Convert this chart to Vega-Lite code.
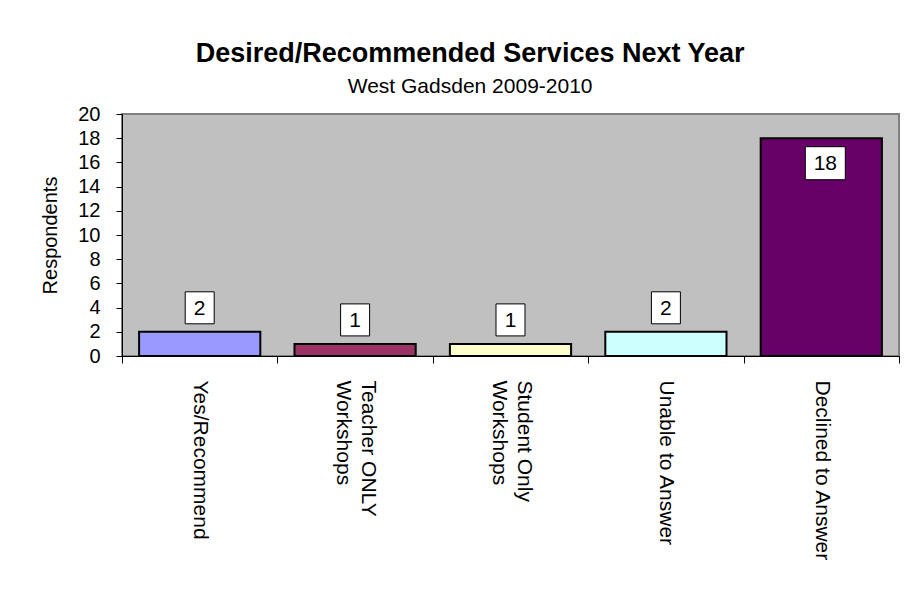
{
  "$schema": "https://vega.github.io/schema/vega-lite/v6.json",
  "width": 777,
  "height": 242,
  "padding": {"left": 40, "top": 40, "right": 10, "bottom": 5},
  "background": "white",
  "title": {
    "text": "Desired/Recommended Services Next Year",
    "subtitle": "West Gadsden 2009-2010",
    "font": "Liberation Sans",
    "fontSize": 27,
    "fontWeight": "bold",
    "color": "black",
    "subtitleFont": "Liberation Sans",
    "subtitleFontSize": 21,
    "subtitleColor": "black",
    "subtitlePadding": 8,
    "anchor": "middle",
    "frame": "bounds",
    "offset": 6
  },
  "config": {
    "view": {"stroke": "#808080", "strokeWidth": 2, "fill": "#C0C0C0"},
    "font": "Liberation Sans"
  },
  "data": {
    "values": [
      {"category": "Yes/Recommend", "respondents": 2},
      {"category": "Teacher ONLY Workshops", "respondents": 1},
      {"category": "Student Only Workshops", "respondents": 1},
      {"category": "Unable to Answer", "respondents": 2},
      {"category": "Declined to Answer", "respondents": 18}
    ]
  },
  "encoding": {
    "x": {
      "field": "category",
      "type": "nominal",
      "sort": null,
      "scale": {"paddingInner": 0, "paddingOuter": 0},
      "axis": {
        "title": null,
        "labelAngle": 90,
        "labelAlign": "left",
        "labelBaseline": "middle",
        "labelFont": "Liberation Sans",
        "labelFontSize": 21,
        "labelColor": "black",
        "labelPadding": 17,
        "labelLimit": 0,
        "labelLineHeight": 25,
        "labelOffset": {"condition": {"test": "datum.value == 'Teacher ONLY Workshops' || datum.value == 'Student Only Workshops'", "value": 12.5}, "value": 0},
        "labelExpr": "datum.label == 'Teacher ONLY Workshops' ? ['Teacher ONLY', 'Workshops'] : datum.label == 'Student Only Workshops' ? ['Student Only', 'Workshops'] : datum.label",
        "tickBand": "extent",
        "tickSize": 7,
        "tickColor": "black",
        "domainColor": "black",
        "grid": false
      }
    },
    "y": {
      "field": "respondents",
      "type": "quantitative",
      "scale": {"domain": [0, 20], "nice": false},
      "axis": {
        "title": "Respondents",
        "titleFont": "Liberation Sans",
        "titleFontSize": 20,
        "titleFontWeight": "normal",
        "titleColor": "black",
        "titlePadding": 17,
        "values": [0, 2, 4, 6, 8, 10, 12, 14, 16, 18, 20],
        "labelFont": "Liberation Sans",
        "labelFontSize": 20,
        "labelColor": "black",
        "labelPadding": 16,
        "labelOverlap": false,
        "tickSize": 6,
        "tickColor": "black",
        "domainColor": "black",
        "grid": false
      }
    }
  },
  "layer": [
    {
      "mark": {"type": "bar", "width": {"band": 0.78}, "stroke": "black", "strokeWidth": 2},
      "encoding": {
        "color": {
          "field": "category",
          "type": "nominal",
          "scale": {
            "domain": ["Yes/Recommend", "Teacher ONLY Workshops", "Student Only Workshops", "Unable to Answer", "Declined to Answer"],
            "range": ["#9999FF", "#993366", "#FFFFCC", "#CCFFFF", "#660066"]
          },
          "legend": null
        }
      }
    },
    {
      "transform": [{"filter": "datum.respondents < 10"}],
      "mark": {"type": "point", "shape": "M-0.906,-1H0.906V1H-0.906Z", "size": 1024, "filled": true, "fill": "white", "stroke": "black", "strokeWidth": 1, "opacity": 1, "yOffset": -24}
    },
    {
      "transform": [{"filter": "datum.respondents < 10"}],
      "mark": {"type": "text", "font": "Liberation Sans", "fontSize": 21, "baseline": "middle", "align": "center", "color": "black", "yOffset": -23},
      "encoding": {"text": {"field": "respondents", "type": "quantitative"}}
    },
    {
      "transform": [{"filter": "datum.respondents >= 10"}],
      "mark": {"type": "point", "shape": "M-1.212,-1H1.212V1H-1.212Z", "size": 1089, "filled": true, "fill": "white", "stroke": "black", "strokeWidth": 1, "opacity": 1, "yOffset": 25, "xOffset": 4}
    },
    {
      "transform": [{"filter": "datum.respondents >= 10"}],
      "mark": {"type": "text", "font": "Liberation Sans", "fontSize": 21, "baseline": "middle", "align": "center", "color": "black", "yOffset": 26, "xOffset": 4},
      "encoding": {"text": {"field": "respondents", "type": "quantitative"}}
    }
  ]
}
